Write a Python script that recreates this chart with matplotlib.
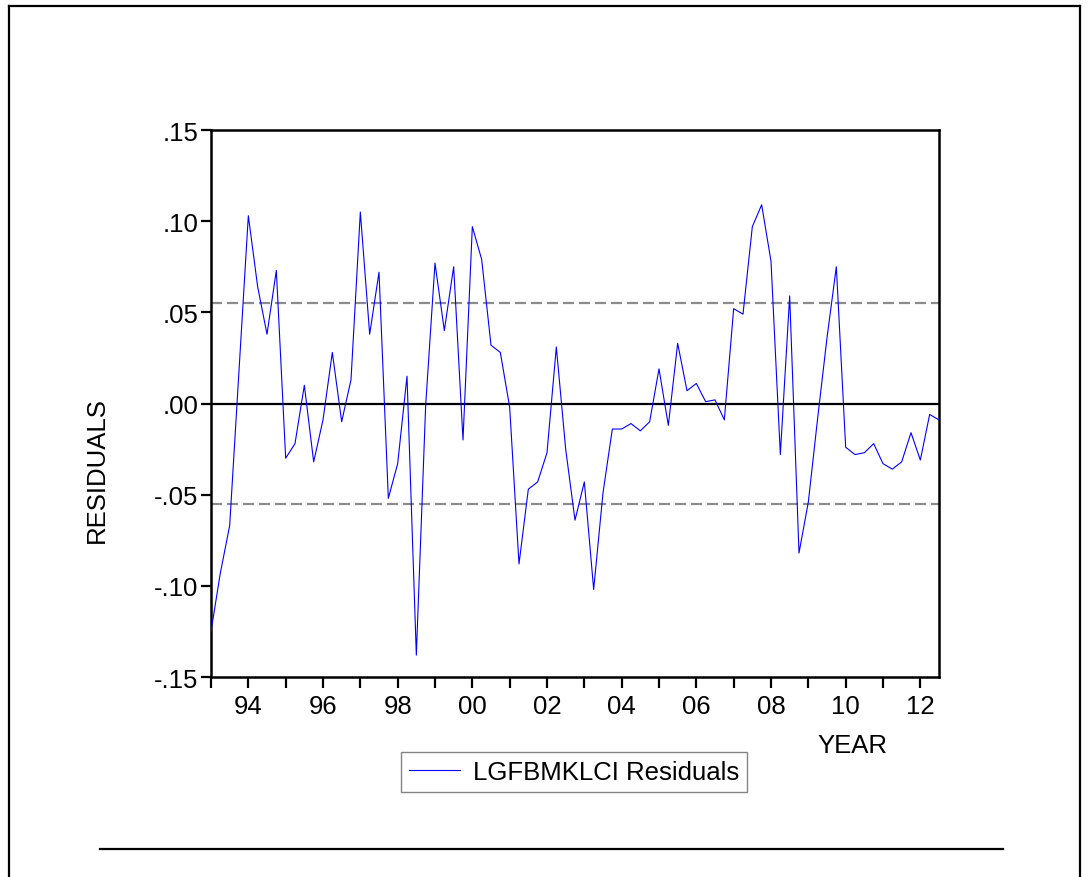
import matplotlib
matplotlib.use("Agg")
import matplotlib.pyplot as plt
from matplotlib.lines import Line2D
import numpy as np

# Quarterly residuals, 1993Q1 .. 2012Q3
start_year = 1993
residuals = [
    -0.125, -0.093, -0.067, 0.018, 0.103, 0.064, 0.038, 0.073,
    -0.030, -0.022, 0.010, -0.032, -0.009, 0.028, -0.010, 0.013,
    0.105, 0.038, 0.072, -0.052, -0.033, 0.015, -0.138, -0.001,
    0.077, 0.040, 0.075, -0.020, 0.097, 0.079, 0.032, 0.028,
    -0.002, -0.088, -0.047, -0.043, -0.027, 0.031, -0.025, -0.064,
    -0.043, -0.102, -0.049, -0.014, -0.014, -0.011, -0.015, -0.010,
    0.019, -0.012, 0.033, 0.007, 0.011, 0.001, 0.002, -0.009,
    0.052, 0.049, 0.097, 0.109, 0.078, -0.028, 0.059, -0.082,
    -0.054, -0.008, 0.036, 0.075, -0.024, -0.028, -0.027, -0.022,
    -0.033, -0.036, -0.032, -0.016, -0.031, -0.006, -0.009,
]
band = 0.055
y_ticks = [-0.15, -0.10, -0.05, 0.00, 0.05, 0.10, 0.15]
y_tick_labels = ["-.15", "-.10", "-.05", ".00", ".05", ".10", ".15"]
x_tick_years = list(range(1993, 2013))
x_tick_labels = [f"{y % 100:02d}" if y % 2 == 0 else "" for y in x_tick_years]
series_label = "LGFBMKLCI Residuals"

plt.rcParams['font.family'] = ['Liberation Sans', 'DejaVu Sans']
FS = 18.5

W, H = 1088, 878
fig = plt.figure(figsize=(W / 100, H / 100), dpi=100)
ax = fig.add_axes([211 / W, 1 - 678 / H, (939 - 211) / W, (678 - 131) / H])

x = start_year + np.arange(len(residuals)) / 4.0
ax.plot(x, residuals, color="#0000ff", lw=0.8, label=series_label, zorder=3)
ax.axhline(0, color="black", lw=1.6, zorder=2)
for b in (band, -band):
    ax.axhline(b, color="#8c8c8c", lw=1.6, dashes=(5, 2.2), zorder=1)

ax.set_xlim(start_year, x[-1])
ax.set_ylim(-0.15, 0.15)
ax.set_yticks(y_ticks)
ax.set_yticklabels(y_tick_labels, fontsize=FS)
ax.set_xticks(x_tick_years)
ax.set_xticklabels(x_tick_labels, fontsize=FS)
ax.tick_params(axis="y", direction="out", length=7, width=1.6, pad=2)
ax.tick_params(axis="x", direction="out", length=8, width=1.6, pad=4)
for s in ax.spines.values():
    s.set_linewidth(1.8)

fig.text(97 / W, 1 - 470 / H, "RESIDUALS", rotation=90, ha="center", va="center", fontsize=FS)
fig.text(852 / W, 1 - 746 / H, "YEAR", ha="center", va="center", fontsize=FS)

leg = fig.legend(loc="center", bbox_to_anchor=(574 / W, 1 - 773 / H), fontsize=FS,
                 frameon=True, fancybox=False, edgecolor="#666666", handlelength=2.0,
                 borderpad=0.3, handletextpad=0.5)
leg.get_frame().set_linewidth(1.0)

# outer frame and bottom rule
fig.add_artist(Line2D([9 / W, 9 / W], [0, 1 - 7 / H], color="black", lw=1.6))
fig.add_artist(Line2D([9 / W, 1080 / W], [1 - 7 / H, 1 - 7 / H], color="black", lw=1.6))
fig.add_artist(Line2D([1080 / W, 1080 / W], [0, 1 - 7 / H], color="black", lw=1.6))
fig.add_artist(Line2D([100 / W, 1003 / W], [1 - 850 / H, 1 - 850 / H], color="black", lw=1.6))

fig.savefig("out.png", dpi=100)
